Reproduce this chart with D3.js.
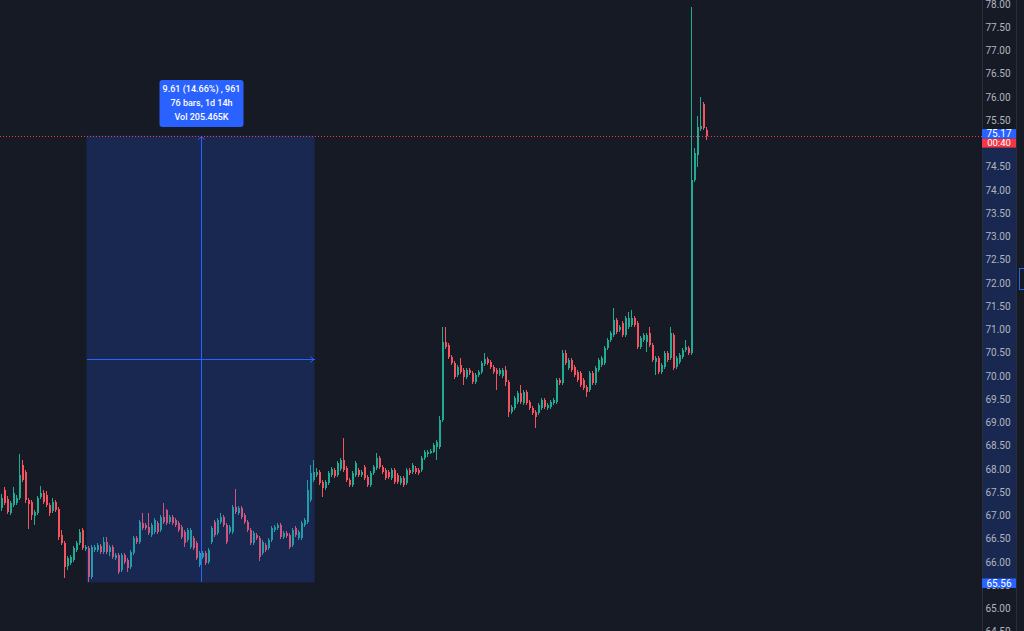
<!DOCTYPE html>
<html><head><meta charset="utf-8">
<script src="https://cdn.jsdelivr.net/npm/d3@7"></script>
<style>html,body{margin:0;padding:0;background:#161a25;overflow:hidden}</style>
</head><body><svg id="c" width="1024" height="631"></svg>
<script>
// ---- DATA (30-minute bars) ----
const openP = [67.16,67.55,67.35,67.05,67.23,67.27,67.38,68.09,67.94,67.33,67.29,66.99,67.05,67.40,67.48,67.44,67.23,67.10,67.29,67.14,
66.58,66.41,65.91,65.98,66.04,66.26,66.41,66.69,66.28,66.30,65.68,66.26,66.26,66.34,66.21,66.43,66.21,66.32,66.09,66.15,
65.83,66.15,66.04,65.89,66.19,66.52,66.43,66.84,66.80,66.75,66.58,66.65,66.84,66.69,66.97,67.12,66.86,66.97,66.90,66.84,
66.75,66.65,66.47,66.32,66.52,66.41,65.94,66.11,66.19,66.00,66.43,66.86,66.62,66.86,66.97,66.80,66.65,66.65,67.18,67.05,
67.16,67.01,66.86,66.69,66.41,66.58,66.52,66.19,66.37,66.30,66.47,66.69,66.73,66.80,66.54,66.62,66.58,66.37,66.73,66.52,
66.52,66.80,66.86,67.33,67.76,67.87,67.94,67.72,67.59,67.70,67.87,67.98,67.87,68.00,68.19,68.02,67.76,67.66,67.87,67.98,
67.87,68.04,67.83,67.66,67.91,68.02,68.24,68.04,67.98,67.94,67.81,67.98,67.87,67.70,67.81,67.70,67.98,67.94,68.02,67.98,
67.98,68.24,68.32,68.35,68.37,68.47,68.47,69.05,70.73,70.67,70.41,70.28,70.02,70.24,70.13,69.98,70.13,70.06,69.87,70.02,
70.09,70.26,70.37,70.30,70.19,70.13,70.04,70.00,70.13,69.87,69.23,69.31,69.44,69.63,69.42,69.66,69.44,69.31,69.23,69.20,
69.31,69.48,69.31,69.33,69.42,69.44,69.91,69.85,70.49,70.17,70.34,70.19,70.09,70.06,69.91,69.76,69.70,70.06,69.85,70.13,
70.24,70.28,70.60,70.77,70.88,71.20,70.99,71.14,70.88,71.05,71.10,71.25,71.14,70.62,70.77,70.73,70.92,70.67,70.30,70.39,
70.09,70.19,70.49,70.39,70.88,70.19,70.30,70.41,70.56,70.60,70.49,74.22,74.75,75.31,75.85,75.29];
const highP = [67.46,67.61,67.42,67.31,67.61,67.44,68.32,68.19,67.98,67.38,67.33,67.12,67.42,67.63,67.55,67.53,67.27,67.38,67.33,67.18,
66.69,66.45,66.13,66.15,66.34,66.45,66.71,66.73,66.37,66.34,66.37,66.37,66.41,66.39,66.54,66.54,66.37,66.37,66.19,66.19,
66.19,66.19,66.09,66.26,66.56,66.56,66.90,67.05,66.84,67.05,66.84,66.95,66.88,67.01,67.27,67.14,67.01,67.01,66.95,66.88,
66.80,66.69,66.73,66.73,66.56,66.45,66.24,66.24,66.24,66.30,66.77,66.90,66.95,67.05,67.01,66.84,66.80,67.23,67.57,67.20,
67.20,67.05,66.90,66.73,66.67,66.62,66.56,66.47,66.41,66.52,66.77,66.80,66.84,66.84,66.67,66.67,66.62,66.73,66.77,66.69,
66.88,66.95,67.76,68.09,68.19,68.02,67.98,67.76,67.76,67.96,68.04,68.02,68.17,68.24,68.66,68.06,67.81,67.96,68.17,68.02,
67.98,68.09,67.87,67.96,68.09,68.35,68.28,68.09,68.02,67.98,68.02,68.02,67.91,67.85,67.85,68.02,68.02,68.13,68.06,68.02,
68.28,68.41,68.41,68.43,68.56,68.62,69.14,71.05,71.05,70.71,70.45,70.32,70.24,70.39,70.17,70.17,70.17,70.11,70.06,70.13,
70.32,70.49,70.41,70.34,70.24,70.17,70.17,70.17,70.22,69.91,69.38,69.57,69.68,69.81,69.70,69.70,69.48,69.35,69.27,69.42,
69.53,69.53,69.42,69.48,69.53,69.96,69.96,70.56,70.56,70.39,70.39,70.24,70.13,70.11,69.96,69.81,70.11,70.11,70.22,70.39,
70.43,70.65,70.82,70.97,71.46,71.25,71.10,71.18,71.29,71.38,71.42,71.29,71.18,70.86,70.92,70.92,71.05,70.71,70.43,70.43,
70.28,70.54,70.54,71.05,70.92,70.43,70.49,70.60,70.77,70.65,77.94,74.90,75.59,76.00,75.89,75.36];
const lowP = [67.10,67.23,67.03,67.01,67.18,67.23,67.33,67.72,67.27,66.71,66.90,66.80,67.01,67.35,67.25,67.18,66.99,67.05,67.08,66.47,
66.37,65.66,65.83,65.94,66.00,66.21,66.37,66.26,66.24,65.56,65.63,66.21,66.21,66.17,66.17,66.17,66.13,66.06,66.04,65.74,
65.78,65.96,65.78,65.85,66.15,66.39,66.39,66.69,66.69,66.58,66.54,66.60,66.60,66.65,66.82,66.80,66.82,66.80,66.75,66.65,
66.49,66.32,66.43,66.28,66.26,66.04,65.89,66.06,65.94,65.96,66.39,66.54,66.58,66.82,66.75,66.39,66.60,66.60,67.03,67.01,
66.92,66.82,66.65,66.37,66.37,66.47,66.02,66.15,66.21,66.26,66.43,66.65,66.69,66.49,66.49,66.52,66.28,66.32,66.54,66.47,
66.47,66.75,66.82,67.29,67.72,67.83,67.66,67.40,67.55,67.66,67.83,67.81,67.83,67.96,67.94,67.72,67.61,67.61,67.83,67.83,
67.83,67.76,67.61,67.61,67.87,67.98,68.00,67.89,67.76,67.78,67.76,67.68,67.68,67.66,67.61,67.66,67.87,67.89,67.89,67.87,
67.94,68.19,68.26,68.32,68.34,68.19,68.43,69.01,70.58,70.37,70.24,69.94,69.98,70.04,69.81,69.94,70.02,69.83,69.83,69.98,
70.04,70.22,70.24,70.15,70.04,69.70,70.00,69.96,69.78,69.12,69.18,69.27,69.40,69.40,69.38,69.38,69.27,69.16,68.88,69.16,
69.27,69.29,69.27,69.29,69.38,69.40,69.81,69.81,70.24,70.13,70.09,69.98,69.87,69.76,69.70,69.55,69.66,69.81,69.81,70.09,
70.19,70.24,70.56,70.73,70.84,70.90,70.95,70.84,70.84,71.01,71.05,71.05,70.58,70.58,70.73,70.52,70.62,70.30,70.02,70.04,
70.04,70.15,70.30,70.34,70.13,70.15,70.26,70.37,70.52,70.45,70.45,74.17,74.49,75.27,75.29,75.08];
const closeP = [67.38,67.27,67.08,67.27,67.48,67.38,67.87,67.76,67.33,67.25,67.01,67.08,67.38,67.48,67.29,67.23,67.05,67.29,67.12,66.54,
66.41,65.89,66.09,66.11,66.30,66.41,66.65,66.30,66.32,65.68,66.32,66.32,66.37,66.21,66.43,66.21,66.32,66.11,66.15,65.78,
66.15,66.00,65.87,66.21,66.52,66.43,66.86,66.73,66.73,66.62,66.80,66.90,66.65,66.97,66.86,66.84,66.97,66.84,66.80,66.69,
66.54,66.41,66.69,66.69,66.30,66.09,66.19,66.19,65.98,66.26,66.73,66.58,66.90,66.97,66.80,66.43,66.75,67.18,67.08,67.16,
66.97,66.86,66.69,66.41,66.62,66.52,66.11,66.43,66.26,66.47,66.73,66.75,66.80,66.54,66.62,66.56,66.32,66.69,66.58,66.65,
66.84,66.90,67.55,67.91,67.94,67.94,67.70,67.59,67.72,67.91,68.00,67.85,68.13,68.19,67.98,67.76,67.66,67.91,68.13,67.87,
67.94,67.81,67.66,67.91,68.04,68.24,68.04,67.94,67.81,67.83,67.98,67.72,67.72,67.81,67.66,67.98,67.91,68.09,67.94,67.91,
68.24,68.37,68.37,68.39,68.52,68.58,69.05,70.73,70.62,70.41,70.28,69.98,70.19,70.09,69.98,70.13,70.06,69.87,70.02,70.09,
70.28,70.37,70.28,70.19,70.09,70.04,70.13,70.13,69.87,69.23,69.33,69.53,69.63,69.44,69.66,69.42,69.31,69.20,69.12,69.38,
69.48,69.33,69.38,69.44,69.48,69.91,69.85,70.49,70.28,70.34,70.13,70.02,69.91,69.81,69.74,69.66,70.06,69.85,70.17,70.34,
70.39,70.60,70.77,70.92,71.20,70.95,71.05,70.88,71.25,71.25,71.25,71.10,70.62,70.82,70.88,70.88,70.67,70.34,70.39,70.09,
70.24,70.49,70.34,70.92,70.17,70.39,70.45,70.56,70.62,70.49,74.22,74.80,75.36,75.38,75.33,75.17];
const yTicks = [64.5,65,65.5,66,66.5,67,67.5,68,68.5,69,69.5,70,70.5,71,71.5,72,72.5,73,73.5,74,74.5,75,75.5,76,76.5,77,77.5,78];
const lastPrice = 75.17;
const countdown = "00:40";
const measureLow = 65.56;
const measureFirstBar = 29, measureLastBar = 104;
const tooltipLines = ["9.61 (14.66%) , 961", "76 bars, 1d 14h", "Vol 205.465K"];

// ---- CHART ----
const W = 1024, H = 631, axisX = 983, axisR = 1016;
const svg = d3.select("#c");
const x = d3.scaleLinear().domain([0, 235]).range([1, 706]);
const y = d3.scaleLinear().domain([65, 78]).range([608.5, 4]);
const up = "#22ab94", down = "#f7525f", blue = "#2962ff";
const font = "Roboto, sans-serif";

svg.append("rect").attr("width", W).attr("height", H).attr("fill", "#161a25");

const g = svg.append("g").attr("shape-rendering", "crispEdges");
const idx = d3.range(openP.length);
g.selectAll("line.w").data(idx).join("line")
  .attr("x1", i => Math.round(x(i)) + 0.5).attr("x2", i => Math.round(x(i)) + 0.5)
  .attr("y1", i => y(highP[i])).attr("y2", i => y(lowP[i]))
  .attr("stroke", i => closeP[i] >= openP[i] ? up : down).attr("stroke-width", 1);
g.selectAll("rect.b").data(idx).join("rect")
  .attr("x", i => Math.round(x(i))).attr("width", 2)
  .attr("y", i => y(Math.max(openP[i], closeP[i])))
  .attr("height", i => Math.max(1, Math.abs(y(openP[i]) - y(closeP[i]))))
  .attr("fill", i => closeP[i] >= openP[i] ? up : down);

// measurement box
const bx0 = x(measureFirstBar - 0.5), bx1 = x(measureLastBar + 0.5);
const by0 = y(lastPrice), by1 = y(measureLow);
svg.append("rect").attr("x", bx0).attr("y", by0).attr("width", bx1 - bx0).attr("height", by1 - by0)
  .attr("fill", blue).attr("fill-opacity", 0.2);
const mx = Math.round((bx0 + bx1) / 2) + 0.5, my = Math.round((by0 + by1) / 2) + 0.5;
const ml = svg.append("g").attr("stroke", blue).attr("stroke-width", 1).attr("fill", "none");
ml.append("line").attr("x1", mx).attr("x2", mx).attr("y1", by0).attr("y2", by1).attr("shape-rendering", "crispEdges");
ml.append("path").attr("d", `M${mx-3},${by0+4}L${mx},${by0+1}L${mx+3},${by0+4}`);
ml.append("line").attr("x1", bx0).attr("x2", bx1).attr("y1", my).attr("y2", my).attr("shape-rendering", "crispEdges");
ml.append("path").attr("d", `M${bx1-4},${my-3}L${bx1-1},${my}L${bx1-4},${my+3}`);

// price line
svg.append("line").attr("x1", 0).attr("x2", axisX).attr("y1", Math.round(y(lastPrice)) + 0.5).attr("y2", Math.round(y(lastPrice)) + 0.5)
  .attr("stroke", "#f23645").attr("stroke-dasharray", "1,2").attr("stroke-width", 1);

// tooltip
svg.append("rect").attr("x", mx - 42).attr("y", 80).attr("width", 84).attr("height", 47).attr("rx", 3).attr("fill", blue);
svg.selectAll("text.tt").data(tooltipLines).join("text")
  .attr("x", mx).attr("y", (d, k) => 92 + k * 14).attr("text-anchor", "middle")
  .attr("fill", "#ffffff").attr("font-family", font).attr("font-size", 9).attr("font-weight", 500)
  .text(d => d);

// price axis
svg.append("rect").attr("x", axisX).attr("y", by0).attr("width", axisR - axisX).attr("height", by1 - by0)
  .attr("fill", blue).attr("fill-opacity", 0.2);
svg.append("line").attr("x1", axisX - 0.5).attr("x2", axisX - 0.5).attr("y1", 0).attr("y2", H).attr("stroke", "#2a2e39");
svg.selectAll("text.tick").data(yTicks).join("text")
  .attr("x", 998).attr("y", d => y(d) + 3.5).attr("text-anchor", "middle")
  .attr("fill", "#b2b5be").attr("font-family", font).attr("font-size", 10)
  .text(d => d.toFixed(2));

// right edge of neighbouring panel
svg.append("line").attr("x1", axisR + 0.5).attr("x2", axisR + 0.5).attr("y1", 0).attr("y2", H).attr("stroke", "#2a2e39");
svg.append("rect").attr("x", 1019.5).attr("y", 268.5).attr("width", 10).attr("height", 21).attr("fill", "none").attr("stroke", blue);

// last price + countdown labels
const ly = y(lastPrice);
svg.append("rect").attr("x", axisX - 1).attr("y", ly - 6.5).attr("width", axisR - axisX + 1).attr("height", 9.5).attr("fill", blue);
svg.append("rect").attr("x", axisX - 1).attr("y", ly + 3).attr("width", axisR - axisX + 1).attr("height", 9).attr("fill", "#f23645");
svg.append("text").attr("x", 999).attr("y", ly + 1.5).attr("text-anchor", "middle").attr("fill", "#fff")
  .attr("font-family", font).attr("font-size", 10).text(lastPrice.toFixed(2));
svg.append("text").attr("x", 999).attr("y", ly + 10.5).attr("text-anchor", "middle").attr("fill", "#fff")
  .attr("font-family", font).attr("font-size", 9.5).text(countdown);
const lw = y(measureLow);
svg.append("rect").attr("x", axisX - 1).attr("y", lw - 4).attr("width", axisR - axisX + 1).attr("height", 9.5).attr("fill", blue);
svg.append("text").attr("x", 999).attr("y", lw + 4.5).attr("text-anchor", "middle").attr("fill", "#fff")
  .attr("font-family", font).attr("font-size", 10).text(measureLow.toFixed(2));
</script>
</body></html>
